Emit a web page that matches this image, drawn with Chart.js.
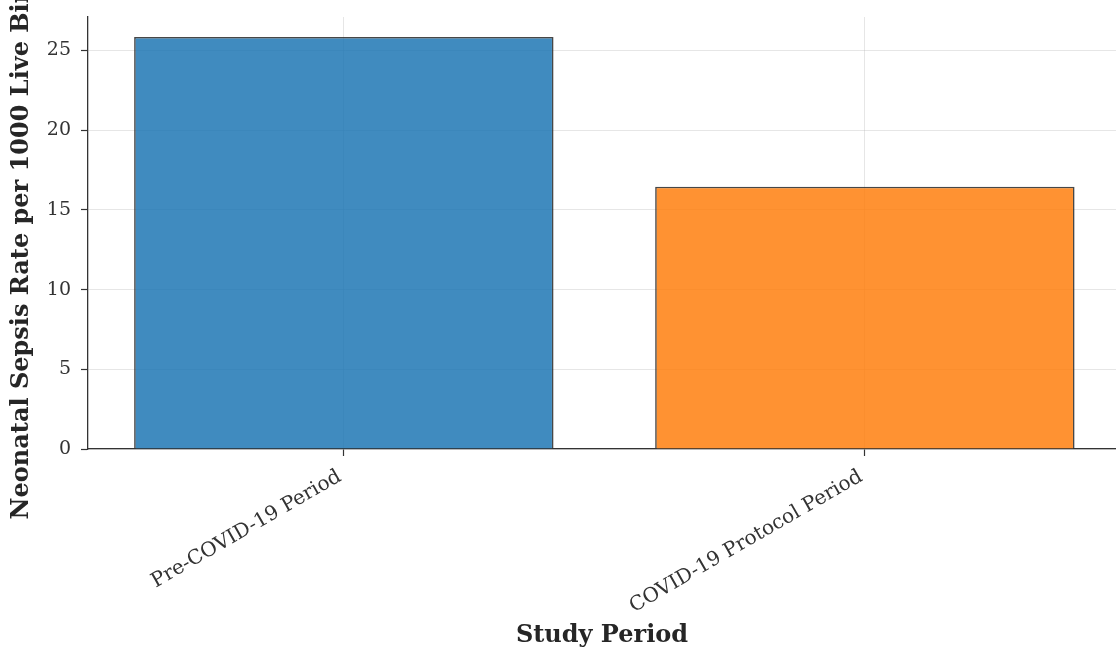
<!DOCTYPE html>
<html>
<head>
<meta charset="utf-8">
<script src="https://cdn.jsdelivr.net/npm/chart.js@4.4.1/dist/chart.umd.min.js"></script>
<style>
  html, body { margin: 0; padding: 0; background: #ffffff; overflow: hidden; }
  #wrap { width: 1116px; height: 652px; position: relative; }
  canvas { display: block; }
</style>
</head>
<body>
<div id="wrap"><canvas id="c" width="1116" height="652"></canvas></div>
<script>
const categories = ["Pre-COVID-19 Period", "COVID-19 Protocol Period"];
const sepsisRates = [25.85, 16.45];
const barColors = ["rgba(31,119,180,0.85)", "rgba(255,127,14,0.85)"];
const yTickValues = [0, 5, 10, 15, 20, 25];
const yAxisTitle = "Neonatal Sepsis Rate per 1000 Live Births";
const xAxisTitle = "Study Period";

const SERIF = "'DejaVu Serif', serif";

const yTitlePlugin = {
  id: 'yTitle',
  afterDraw(chart) {
    const {ctx, chartArea} = chart;
    ctx.save();
    ctx.translate(22, (chartArea.top + chartArea.bottom) / 2 + 1);
    ctx.rotate(-Math.PI / 2);
    ctx.font = "bold 24px " + SERIF;
    ctx.fillStyle = '#262626';
    ctx.textAlign = 'center';
    ctx.textBaseline = 'middle';
    ctx.fillText(yAxisTitle, 0, 0);
    ctx.restore();
  }
};

new Chart(document.getElementById('c'), {
  type: 'bar',
  data: {
    datasets: [{
      data: categories.map((c, i) => ({x: i, y: sepsisRates[i]})),
      backgroundColor: barColors,
      borderColor: 'rgba(51,51,51,0.9)',
      borderWidth: 1.6,
      categoryPercentage: 1.0,
      barPercentage: 0.805
    }]
  },
  options: {
    responsive: false,
    devicePixelRatio: 1,
    animation: false,
    layout: { padding: { top: 17, right: 0, bottom: 0, left: 0 } },
    plugins: { legend: { display: false }, tooltip: { enabled: false } },
    scales: {
      x: {
        type: 'linear',
        min: -0.491,
        max: 1.482,
        offset: false,
        z: 1,
        afterBuildTicks: (s) => { s.ticks = categories.map((c, i) => ({value: i})); },
        afterFit: (s) => { s.height = 203; s.paddingLeft = 0; s.paddingRight = 0; },
        grid: {
          offset: false,
          color: 'rgba(176,176,176,0.32)',
          lineWidth: 1,
          tickColor: '#333333',
          tickLength: 7,
          tickWidth: 1.2
        },
        border: { display: true, color: '#333333', width: 1.3 },
        ticks: {
          callback: (v) => categories[v] !== undefined ? categories[v] : '',
          minRotation: 30,
          maxRotation: 30,
          autoSkip: false,
          color: '#333333',
          padding: 9,
          labelOffset: -4,
          font: { family: SERIF, size: 20 }
        },
        title: {
          display: true,
          text: xAxisTitle,
          color: '#262626',
          font: { family: SERIF, size: 24, weight: 'bold' },
          padding: { top: 0, bottom: 2 }
        }
      },
      y: {
        min: 0,
        max: 27.1,
        z: 1,
        afterBuildTicks: (s) => { s.ticks = yTickValues.map(v => ({value: v})); },
        afterFit: (s) => { s.width = 88; s.paddingTop = 0; s.paddingBottom = 0; },
        grid: {
          color: 'rgba(176,176,176,0.32)',
          lineWidth: 1,
          tickColor: '#333333',
          tickLength: 7,
          tickWidth: 1.2
        },
        border: { display: true, color: '#333333', width: 1.3 },
        ticks: {
          color: '#333333',
          padding: 10,
          font: { family: SERIF, size: 19 }
        }
      }
    }
  },
  plugins: [yTitlePlugin]
});
</script>
</body>
</html>
